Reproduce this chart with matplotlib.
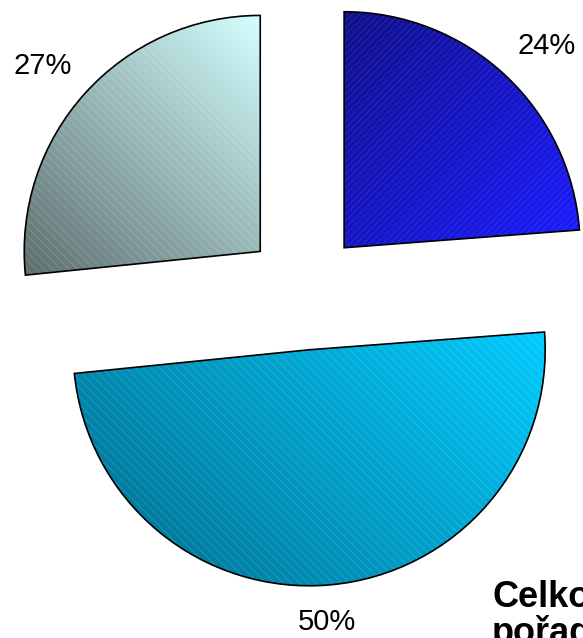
import numpy as np
import matplotlib
matplotlib.use("Agg")
import matplotlib.pyplot as plt
from matplotlib.colors import LinearSegmentedColormap
from matplotlib.patches import Wedge

plt.rcParams['font.family'] = ['Liberation Sans', 'DejaVu Sans']
plt.rcParams['hatch.linewidth'] = 0.5

# ---- data ----
shares = [23.8, 49.6, 26.6]
pct_labels = ['24%', '50%', '27%']
dark_colors = ['#10108a', '#006a8a', '#5c6c6c']
light_colors = ['#1c1cff', '#00ccff', '#d2ffff']
grad_dirs = [(1.0, -1.0), (1.0, 1.0), (1.0, 1.0)]
hatches = ['/////', '\\\\\\\\', '\\\\\\\\']
hatch_colors = [(0.6, 0.6, 1, 0.22), (1, 1, 1, 0.2), (1, 1, 1, 0.22)]
title_text = "Celkové\npořadí"

W, H = 583, 638
fig = plt.figure(figsize=(W / 100, H / 100), dpi=100)
ax = fig.add_axes([0, 0, 1, 1])

R = 236
center = (304, 347)
explode_d = 59

wedges, _ = ax.pie(shares, startangle=90, counterclock=False, radius=R,
                   center=center, explode=[explode_d] * len(shares),
                   frame=True, wedgeprops=dict(linewidth=0))
ax.set_xlim(0, W)
ax.set_ylim(0, H)
ax.set_aspect('equal')
ax.set_axis_off()

label_dist = [1.21, 1.157, 1.21]
label_angle_shift = [-2.3, -1.3, 1.6]
for i, w in enumerate(wedges):
    w.set_facecolor('none')
    verts = w.get_path().vertices
    x0, y0 = verts.min(axis=0)
    x1, y1 = verts.max(axis=0)
    xs = np.linspace(x0, x1, 300)
    ys = np.linspace(y0, y1, 300)
    X, Y = np.meshgrid(xs, ys)
    dx, dy = grad_dirs[i]
    t = (X - x0) * dx + (Y - y0) * dy
    t = (t - t.min()) / (t.max() - t.min())
    cmap = LinearSegmentedColormap.from_list(f'g{i}', [dark_colors[i], light_colors[i]])
    im = ax.imshow(t, cmap=cmap, extent=[x0, x1, y0, y1], origin='lower',
                   interpolation='bilinear', zorder=1, aspect='auto')
    im.set_clip_path(w)
    hp = Wedge((w.center[0], w.center[1]), w.r, w.theta1, w.theta2,
               facecolor='none', edgecolor=hatch_colors[i], hatch=hatches[i],
               linewidth=0, zorder=2)
    ax.add_patch(hp)
    op = Wedge((w.center[0], w.center[1]), w.r, w.theta1, w.theta2,
               facecolor='none', edgecolor='black', linewidth=1.2, zorder=3)
    ax.add_patch(op)
    thetam = np.deg2rad(0.5 * (w.theta1 + w.theta2) + label_angle_shift[i])
    lx = w.center[0] + label_dist[i] * R * np.cos(thetam)
    ly = w.center[1] + label_dist[i] * R * np.sin(thetam)
    ax.text(lx, ly, pct_labels[i], ha='center', va='center', fontsize=21,
            color='black', zorder=4)

ax.text(492, 58, title_text, ha='left', va='top', fontsize=26,
        fontweight='bold', color='black', linespacing=1.0, zorder=4)

ax.set_xlim(0, W)
ax.set_ylim(0, H)
fig.savefig('out.png', dpi=100)
